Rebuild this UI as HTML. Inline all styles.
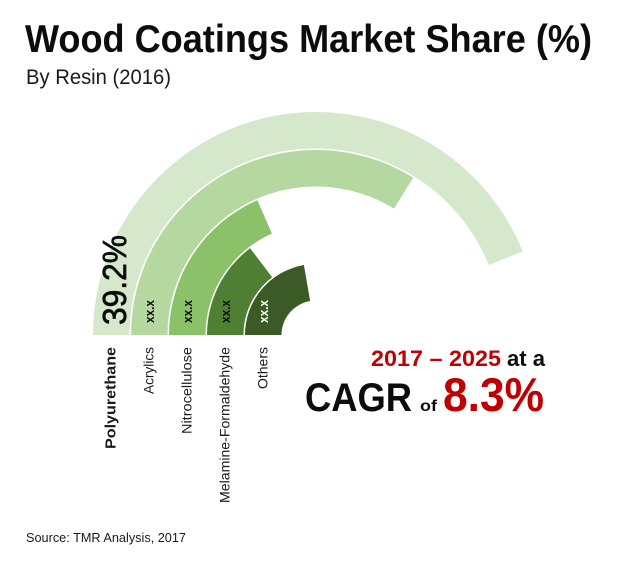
<!DOCTYPE html>
<html lang="en">
<head>
<meta charset="utf-8">
<title>Wood Coatings Market Share</title>
<style>
html,body{margin:0;padding:0;background:#fff;width:620px;height:568px;overflow:hidden}
svg{display:block}
text{font-family:"Liberation Sans",sans-serif}
</style>
</head>
<body>
<svg id="chart" xmlns="http://www.w3.org/2000/svg" width="620" height="568" viewBox="0 0 620 568">
  <text x="25" y="52" font-size="39" font-weight="bold" fill="#0c0c0c" textLength="567" lengthAdjust="spacingAndGlyphs">Wood Coatings Market Share (%)</text>
  <text x="26" y="84" font-size="21" fill="#1a1a1a" textLength="145" lengthAdjust="spacingAndGlyphs">By Resin (2016)</text>
  <g id="rings"></g>
  <g id="labels"></g>
  <text x="371" y="366" font-size="22" font-weight="bold" fill="#c00000" textLength="130" lengthAdjust="spacingAndGlyphs">2017 – 2025</text>
  <text x="507" y="366" font-size="22" font-weight="bold" fill="#0c0c0c" textLength="38" lengthAdjust="spacingAndGlyphs">at a</text>
  <text x="305" y="411" font-size="40" font-weight="bold" fill="#0c0c0c" textLength="107" lengthAdjust="spacingAndGlyphs">CAGR</text>
  <text x="420" y="411" font-size="16" font-weight="bold" fill="#0c0c0c" textLength="17" lengthAdjust="spacingAndGlyphs">of</text>
  <text x="443" y="411" font-size="47" font-weight="bold" fill="#c00000" textLength="101" lengthAdjust="spacingAndGlyphs">8.3%</text>
  <text x="26" y="542" font-size="12.5" fill="#1a1a1a" textLength="160" lengthAdjust="spacingAndGlyphs">Source: TMR Analysis, 2017</text>
</svg>
<script>
const categories = ['Polyurethane', 'Acrylics', 'Nitrocellulose', 'Melamine-Formaldehyde', 'Others'];
const shareValues = [39.2, 30.2, 16.5, 13.1, 19.9];
const printedValues = ['39.2%', 'xx.x', 'xx.x', 'xx.x', 'xx.x'];
const ringColors = ['#d5e8cb', '#b5d7a0', '#8bc168', '#4f7f33', '#3c5a26'];

const NS = 'http://www.w3.org/2000/svg';
const CX = 316, CY = 335;
const OUTER_R = 223, PITCH = 38, BAND = 36.5;
const DEG_PER_UNIT = 4.03;

function angleOf(v) { return v * DEG_PER_UNIT * Math.PI / 180; }
function outerOf(i) { return OUTER_R - PITCH * i; }
function innerOf(i) { return outerOf(i) - BAND; }
function pt(r, a) { return [CX - r * Math.cos(a), CY - r * Math.sin(a)]; }
function f(n) { return n.toFixed(2); }

function ringPath(i, v) {
  const a = angleOf(v), ro = outerOf(i), ri = innerOf(i);
  const large = a > Math.PI ? 1 : 0;
  const p0 = pt(ro, 0), p1 = pt(ro, a), p2 = pt(ri, a), p3 = pt(ri, 0);
  return 'M' + f(p0[0]) + ' ' + f(p0[1]) +
    ' A' + ro + ' ' + ro + ' 0 ' + large + ' 1 ' + f(p1[0]) + ' ' + f(p1[1]) +
    ' L' + f(p2[0]) + ' ' + f(p2[1]) +
    ' A' + ri + ' ' + ri + ' 0 ' + large + ' 0 ' + f(p3[0]) + ' ' + f(p3[1]) + ' Z';
}

function bandCenterX(i) { return CX - (outerOf(i) + innerOf(i)) / 2; }

function verticalText(x, y, str, size, weight, fill, len) {
  const t = document.createElementNS(NS, 'text');
  t.setAttribute('transform', 'translate(' + f(x) + ' ' + y + ') rotate(-90)');
  t.setAttribute('font-size', size);
  t.setAttribute('font-weight', weight);
  t.setAttribute('fill', fill);
  t.setAttribute('textLength', len);
  t.setAttribute('lengthAdjust', 'spacingAndGlyphs');
  t.textContent = str;
  return t;
}

const ringsGroup = document.getElementById('rings');
const labelsGroup = document.getElementById('labels');

shareValues.forEach(function (v, i) {
  const p = document.createElementNS(NS, 'path');
  p.setAttribute('d', ringPath(i, v));
  p.setAttribute('fill', ringColors[i]);
  
  
  ringsGroup.appendChild(p);
});

const labelLengths = [102, 47, 87, 156, 42];
categories.forEach(function (c, i) {
  const bold = i === 0;
  const y = bold ? 449 : 347 + labelLengths[i];
  const t = verticalText(bandCenterX(i) + 4, y, c, bold ? 14.5 : 13.5, bold ? 'bold' : 'normal', '#1a1a1a', labelLengths[i]);
  
  
  labelsGroup.appendChild(t);
});

printedValues.forEach(function (s, i) {
  const big = i === 0;
  const t = big
    ? verticalText(bandCenterX(i) + 14.5, 325, s, 33, 'normal', '#0c0c0c', 90)
    : verticalText(bandCenterX(i) + 4.5, 323, s, 13, 'bold', i === 4 ? '#ffffff' : '#0c0c0c', 23);
  if (big) {
    t.setAttribute('stroke', '#0c0c0c');
    t.setAttribute('stroke-width', '0.7');
  }
  
  
  labelsGroup.appendChild(t);
});
</script>
</body>
</html>
